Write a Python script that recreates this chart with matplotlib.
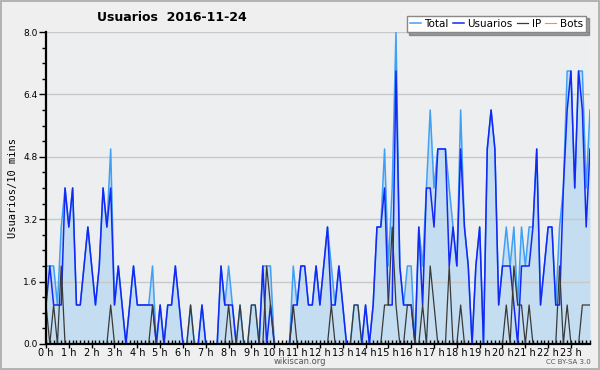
import matplotlib
matplotlib.use('Agg')
import matplotlib.pyplot as plt
import numpy as np
from matplotlib.patches import Rectangle

# 10-minute counts for 2016-11-24 (144 slots)
usuarios = [1, 2, 1, 1, 1, 4, 3, 4, 1, 1, 2, 3, 2, 1, 2, 4, 3, 4, 1, 2, 1, 0, 1, 2,
            1, 1, 1, 1, 1, 0, 1, 0, 1, 1, 2, 1, 0, 0, 0, 0, 0, 1, 0, 0, 0, 0, 2, 1,
            1, 1, 0, 0, 0, 0, 0, 0, 0, 2, 0, 1, 0, 0, 0, 0, 0, 1, 1, 2, 2, 1, 1, 2,
            1, 2, 3, 1, 1, 2, 1, 0, 0, 0, 0, 0, 1, 0, 1, 3, 3, 4, 1, 1, 7, 2, 1, 1,
            1, 0, 3, 1, 4, 4, 3, 5, 5, 5, 2, 3, 2, 5, 3, 2, 0, 2, 3, 0, 5, 6, 5, 1,
            2, 2, 2, 1, 0, 2, 2, 2, 3, 5, 1, 2, 3, 3, 1, 1, 4, 6, 7, 4, 7, 6, 3, 5]
ip = [1, 0, 1, 0, 2, 0, 0, 0, 0, 0, 0, 0, 0, 0, 0, 0, 0, 1, 0, 0, 0, 0, 0, 0,
      0, 0, 0, 0, 1, 0, 0, 0, 0, 0, 0, 0, 0, 0, 1, 0, 0, 0, 0, 0, 0, 0, 0, 0,
      1, 0, 0, 1, 0, 0, 1, 1, 0, 0, 2, 1, 0, 0, 0, 0, 0, 1, 0, 0, 0, 0, 0, 0,
      0, 0, 0, 1, 0, 0, 0, 0, 0, 1, 1, 0, 0, 0, 0, 0, 0, 1, 1, 3, 1, 0, 0, 1,
      1, 0, 0, 1, 0, 2, 1, 0, 0, 0, 2, 0, 0, 1, 0, 0, 0, 0, 0, 0, 0, 0, 0, 0,
      0, 1, 0, 2, 1, 1, 0, 1, 0, 0, 0, 0, 0, 0, 0, 2, 0, 1, 0, 0, 0, 1, 1, 1]
bots = [0] * 144
total = [u + i + b for u, i, b in zip(usuarios, ip, bots)]

hours = np.arange(144) / 6.0
hour_labels = ['%d h' % h for h in range(24)]

fig = plt.figure(figsize=(6, 3.7), dpi=100, facecolor='#efefef')
fig.patches.append(Rectangle((0.001, 0.002), 0.997, 0.995, transform=fig.transFigure,
                             fill=False, edgecolor='#a8a8a8', lw=1.2))
ax = fig.add_axes([0.0767, 0.0703, 0.9066, 0.8432])
ax.set_facecolor('#edeef0')

# bots are all zero: keep the line under the fill and the axis
ax.plot(hours, bots, color='#ff9900', lw=0.8, label='Bots', zorder=0.5)
ax.fill_between(hours, total, 0, color='#c5ddf0', lw=0, zorder=1)
ax.plot(hours, total, color='#3fa0f5', lw=1.1, label='Total')
ax.plot(hours, usuarios, color='#1428f5', lw=1.1, label='Usuarios')
ax.plot(hours, ip, color='#3a3a3a', lw=0.9, label='IP')

ax.set_xlim(0, 143 / 6.0)
ax.set_ylim(0, 8)
ax.set_yticks(np.arange(0, 8.01, 1.6))
ax.set_yticklabels(['%.1f' % v for v in np.arange(0, 8.01, 1.6)])
ax.set_yticks(np.arange(0, 8.01, 0.4), minor=True)
ax.set_xticks(range(24))
ax.set_xticklabels(hour_labels)
ax.set_xticks(hours, minor=True)
ax.grid(axis='y', which='major', color='#c8c8c8', lw=1)
for s in ['top', 'right']:
    ax.spines[s].set_visible(False)
for s in ['left', 'bottom']:
    ax.spines[s].set_linewidth(1.6)
    ax.spines[s].set_zorder(5)
ax.tick_params(axis='y', which='major', length=5, width=1, labelsize=6.5, pad=1)
ax.tick_params(axis='y', which='minor', length=3, width=1)
ax.tick_params(axis='x', which='major', direction='inout', length=6, width=1, labelsize=7, pad=0)
ax.tick_params(axis='x', which='minor', direction='in', length=3, width=1)

ax.set_ylabel('Usuarios/10 mins', family='DejaVu Sans Mono', fontsize=7.5, labelpad=4)

fig.text(0.287, 0.953, 'Usuarios  2016-11-24', ha='center', va='center',
         fontsize=9, fontweight='bold')
fig.text(0.5, 0.022, 'wikiscan.org', ha='center', va='center', fontsize=6, color='#555555')
fig.text(0.985, 0.022, 'CC BY-SA 3.0', ha='right', va='center', fontsize=5, color='#555555')

handles, labels = ax.get_legend_handles_labels()
order = [labels.index(n) for n in ['Total', 'Usuarios', 'IP', 'Bots']]
leg = fig.legend([handles[k] for k in order], [labels[k] for k in order],
                 loc='upper right', bbox_to_anchor=(0.985, 0.972), ncol=4, fontsize=7.5,
                 handlelength=1.1, handletextpad=0.3, columnspacing=0.4,
                 borderpad=0.3, fancybox=False, shadow=True, framealpha=1,
                 edgecolor='#888888')
leg.get_frame().set_linewidth(1)

fig.savefig('out.png', dpi=100, facecolor=fig.get_facecolor())
